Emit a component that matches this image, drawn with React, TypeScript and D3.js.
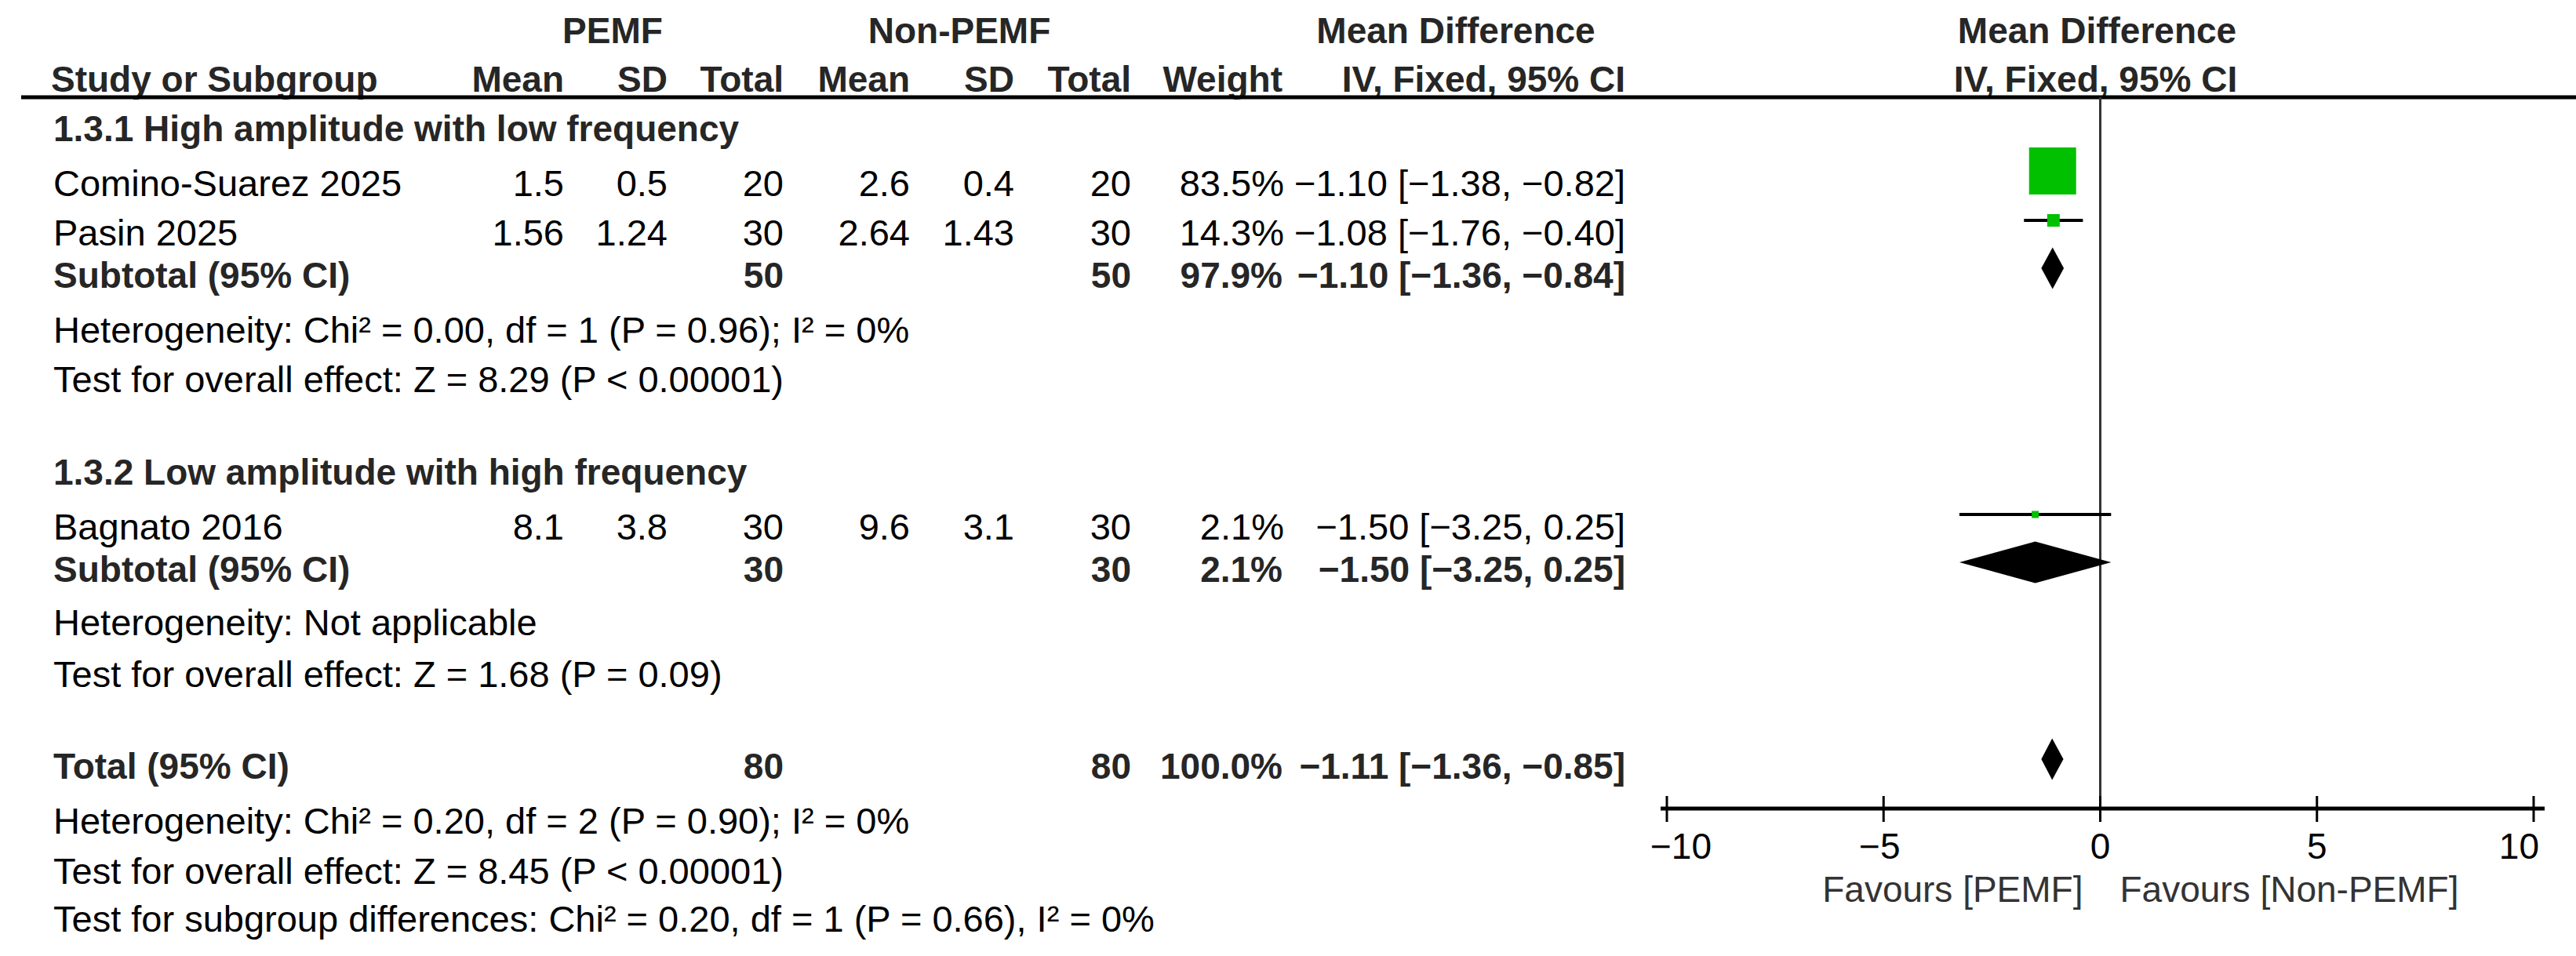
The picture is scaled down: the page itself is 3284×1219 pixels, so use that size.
import React from 'react';
import * as d3 from 'd3';

// ---- data ----
const studyNames = ['Comino-Suarez 2025', 'Pasin 2025', 'Bagnato 2016'];
const pemfMean = ['1.5', '1.56', '8.1'];
const pemfSD = ['0.5', '1.24', '3.8'];
const pemfTotal = [20, 30, 30];
const nonMean = ['2.6', '2.64', '9.6'];
const nonSD = ['0.4', '1.43', '3.1'];
const nonTotal = [20, 30, 30];
const studyWeight = [83.5, 14.3, 2.1];
const studyMD = [-1.1, -1.08, -1.5];
const studyLow = [-1.38, -1.76, -3.25];
const studyHigh = [-0.82, -0.4, 0.25];

const groupTitles = [
  '1.3.1 High amplitude with low frequency',
  '1.3.2 Low amplitude with high frequency'
];
const pooledLabels = ['Subtotal (95% CI)', 'Subtotal (95% CI)', 'Total (95% CI)'];
const pooledPemfTotal = [50, 30, 80];
const pooledNonTotal = [50, 30, 80];
const pooledWeight = [97.9, 2.1, 100.0];
const pooledMD = [-1.1, -1.5, -1.11];
const pooledLow = [-1.36, -3.25, -1.36];
const pooledHigh = [-0.84, 0.25, -0.85];

const heterogeneityText = [
  'Heterogeneity: Chi² = 0.00, df = 1 (P = 0.96); I² = 0%',
  'Heterogeneity: Not applicable',
  'Heterogeneity: Chi² = 0.20, df = 2 (P = 0.90); I² = 0%'
];
const effectText = [
  'Test for overall effect: Z = 8.29 (P < 0.00001)',
  'Test for overall effect: Z = 1.68 (P = 0.09)',
  'Test for overall effect: Z = 8.45 (P < 0.00001)'
];
const subgroupText = 'Test for subgroup differences: Chi² = 0.20, df = 1 (P = 0.66), I² = 0%';

const axisTicks = [-10, -5, 0, 5, 10];
const favourLabels = ['Favours [PEMF]', 'Favours [Non-PEMF]'];

// ---- layout ----
const W = 3284;
const H = 1219;
const FONT = '"Liberation Sans", Arial, sans-serif';
const REG = 47;
const BOLD = 46;

const col = {
  name: 68,
  pMean: 719, pSD: 851, pTotal: 999,
  nMean: 1160, nSD: 1293, nTotal: 1442,
  weight: 1637, ci: 2072
};
const headY1 = 55;
const headY2 = 117;
const ruleY = 124;
const axisY = 1031;
const tickLabelY = 1095;
const favourY = 1150;
const groupTitleY = [180, 618];
const studyRowY = [250, 313, 688];
const pooledRowY = [367, 742, 993];
const hetY = [437, 810, 1063];
const effectY = [500, 876, 1127];
const subgroupY = 1188;

const fmt = (v: number) => v.toFixed(2).replace('-', '\u2212');
const ciText = (m: number, lo: number, hi: number) => `${fmt(m)} [${fmt(lo)}, ${fmt(hi)}]`;

const App: React.FC = () => {
  const x = d3.scaleLinear().domain([-10, 10]).range([2125, 3230]);
  const size = d3.scalePow().exponent(0.75).domain([0, 83.5]).range([0, 60]);

  const reg = { fontFamily: FONT, fontSize: REG, fill: '#000' } as const;
  const bold = { fontFamily: FONT, fontSize: BOLD, fontWeight: 700, fill: '#262626' } as const;

  const diamond = (lo: number, m: number, hi: number, cy: number) => {
    const h = 26.5;
    return `M${x(lo)},${cy} L${x(m)},${cy - h} L${x(hi)},${cy} L${x(m)},${cy + h} Z`;
  };

  return (
    <div style={{ position: 'absolute', left: 0, top: 0, background: '#fff' }}>
      <svg width={W} height={H} style={{ display: 'block' }}>
        <rect width={W} height={H} fill="#fff" />

        {/* header */}
        <g style={bold}>
          <text x={781} y={headY1} textAnchor="middle">PEMF</text>
          <text x={1223} y={headY1} textAnchor="middle">Non-PEMF</text>
          <text x={1856} y={headY1} textAnchor="middle">Mean Difference</text>
          <text x={x(0) - 4} y={headY1} textAnchor="middle">Mean Difference</text>
          <text x={65} y={headY2}>Study or Subgroup</text>
          <text x={col.pMean} y={headY2} textAnchor="end">Mean</text>
          <text x={col.pSD} y={headY2} textAnchor="end">SD</text>
          <text x={col.pTotal} y={headY2} textAnchor="end">Total</text>
          <text x={col.nMean} y={headY2} textAnchor="end">Mean</text>
          <text x={col.nSD} y={headY2} textAnchor="end">SD</text>
          <text x={col.nTotal} y={headY2} textAnchor="end">Total</text>
          <text x={col.weight - 2} y={headY2} textAnchor="end">Weight</text>
          <text x={col.ci} y={headY2} textAnchor="end">IV, Fixed, 95% CI</text>
          <text x={x(0) - 6} y={headY2} textAnchor="middle">IV, Fixed, 95% CI</text>
        </g>
        <line x1={27} x2={W} y1={ruleY} y2={ruleY} stroke="#000" strokeWidth={5} />

        {/* zero line */}
        <line x1={x(0)} x2={x(0)} y1={ruleY} y2={axisY} stroke="#333" strokeWidth={3} />

        {/* group titles */}
        {groupTitles.map((t, i) => (
          <text key={t} x={col.name} y={groupTitleY[i]} style={bold}>{t}</text>
        ))}

        {/* studies */}
        {studyNames.map((name, i) => {
          const y = studyRowY[i];
          const cy = y - 32;
          const s = Math.max(9, size(studyWeight[i]));
          return (
            <g key={name}>
              <g style={reg}>
                <text x={col.name} y={y}>{name}</text>
                <text x={col.pMean} y={y} textAnchor="end">{pemfMean[i]}</text>
                <text x={col.pSD} y={y} textAnchor="end">{pemfSD[i]}</text>
                <text x={col.pTotal} y={y} textAnchor="end">{pemfTotal[i]}</text>
                <text x={col.nMean} y={y} textAnchor="end">{nonMean[i]}</text>
                <text x={col.nSD} y={y} textAnchor="end">{nonSD[i]}</text>
                <text x={col.nTotal} y={y} textAnchor="end">{nonTotal[i]}</text>
                <text x={col.weight} y={y} textAnchor="end">{studyWeight[i].toFixed(1)}%</text>
                <text x={col.ci} y={y} textAnchor="end">{ciText(studyMD[i], studyLow[i], studyHigh[i])}</text>
              </g>
              <line x1={x(studyLow[i])} x2={x(studyHigh[i])} y1={cy} y2={cy} stroke="#000" strokeWidth={4} />
              <rect x={x(studyMD[i]) - s / 2} y={cy - s / 2} width={s} height={s} fill="#00c000" />
            </g>
          );
        })}

        {/* pooled rows */}
        {pooledLabels.map((lab, i) => {
          const y = pooledRowY[i];
          return (
            <g key={i}>
              <g style={bold}>
                <text x={col.name} y={y}>{lab}</text>
                <text x={col.pTotal} y={y} textAnchor="end">{pooledPemfTotal[i]}</text>
                <text x={col.nTotal} y={y} textAnchor="end">{pooledNonTotal[i]}</text>
                <text x={col.weight - 2} y={y} textAnchor="end">{pooledWeight[i].toFixed(1)}%</text>
                <text x={col.ci} y={y} textAnchor="end">{ciText(pooledMD[i], pooledLow[i], pooledHigh[i])}</text>
              </g>
              <path d={diamond(pooledLow[i], pooledMD[i], pooledHigh[i], y - 25)} fill="#000" />
              <text x={col.name} y={hetY[i]} style={reg}>{heterogeneityText[i]}</text>
              <text x={col.name} y={effectY[i]} style={reg}>{effectText[i]}</text>
            </g>
          );
        })}
        <text x={col.name} y={subgroupY} style={reg}>{subgroupText}</text>

        {/* axis */}
        <line x1={x(-10) - 8} x2={x(10) + 14} y1={axisY} y2={axisY} stroke="#000" strokeWidth={5} />
        {axisTicks.map((t, i) => {
          const anchor = i === 0 ? 'start' : i === axisTicks.length - 1 ? 'end' : 'middle';
          const dx = i === 0 ? -21 : i === axisTicks.length - 1 ? 7 : t < 0 ? -5 : 0;
          return (
            <g key={t}>
              <line x1={x(t)} x2={x(t)} y1={axisY - 16} y2={axisY + 17} stroke="#000" strokeWidth={3} />
              <text x={x(t) + dx} y={tickLabelY} textAnchor={anchor} style={{ ...reg, fontSize: 46 }}>
                {t < 0 ? `\u2212${Math.abs(t)}` : t}
              </text>
            </g>
          );
        })}
        <text x={x(0) - 22} y={favourY} textAnchor="end" style={{ ...reg, fontSize: 46, fill: '#333' }}>{favourLabels[0]}</text>
        <text x={x(0) + 25} y={favourY} style={{ ...reg, fontSize: 46, fill: '#333' }}>{favourLabels[1]}</text>
      </svg>
    </div>
  );
};

export default App;
